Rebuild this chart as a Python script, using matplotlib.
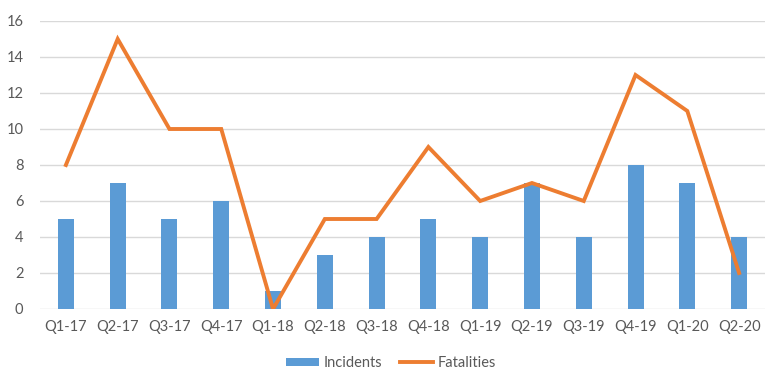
import matplotlib
matplotlib.use("Agg")
import matplotlib.pyplot as plt
import numpy as np

categories = ["Q1-17", "Q2-17", "Q3-17", "Q4-17", "Q1-18", "Q2-18", "Q3-18",
              "Q4-18", "Q1-19", "Q2-19", "Q3-19", "Q4-19", "Q1-20", "Q2-20"]
incidents = [5, 7, 5, 6, 1, 3, 4, 5, 4, 7, 4, 8, 7, 4]
fatalities = [8, 15, 10, 10, 0, 5, 5, 9, 6, 7, 6, 13, 11, 2]
y_ticks = [0, 2, 4, 6, 8, 10, 12, 14, 16]

plt.rcParams['font.family'] = ['Lato', 'DejaVu Sans']
text_color = "#595959"

fig = plt.figure(figsize=(7.82, 3.86), dpi=100)
W, H = 782, 386
ax = fig.add_axes([40 / W, 1 - 309 / H, (765 - 40) / W, (309 - 21) / H])

x = np.arange(len(categories))
bars = ax.bar(x, incidents, width=0.31, color="#5B9BD5", label="Incidents", zorder=2)
line, = ax.plot(x, fatalities, color="#ED7D31", linewidth=2.8, label="Fatalities",
                zorder=3, solid_joinstyle="miter")

ax.set_xlim(-0.5, len(categories) - 0.5)
ax.set_ylim(0, 16)
ax.set_yticks(y_ticks)
ax.set_xticks(x)
ax.set_xticklabels(categories)
ax.grid(axis="y", color="#D9D9D9", linewidth=1.0, zorder=0)
for s in ax.spines.values():
    s.set_visible(False)
ax.tick_params(axis="both", length=0, labelsize=10.5, colors=text_color)
ax.tick_params(axis="x", pad=8)
ax.tick_params(axis="y", pad=12)

leg = fig.legend([bars, line], ["Incidents", "Fatalities"], loc="center",
                 bbox_to_anchor=(0.5, 1 - 363 / H), ncol=2,
                 frameon=False, fontsize=10.5, handlelength=2.3,
                 handleheight=0.5, columnspacing=1.2, handletextpad=0.3)
for t in leg.get_texts():
    t.set_color(text_color)

fig.savefig("out.png", dpi=100)
